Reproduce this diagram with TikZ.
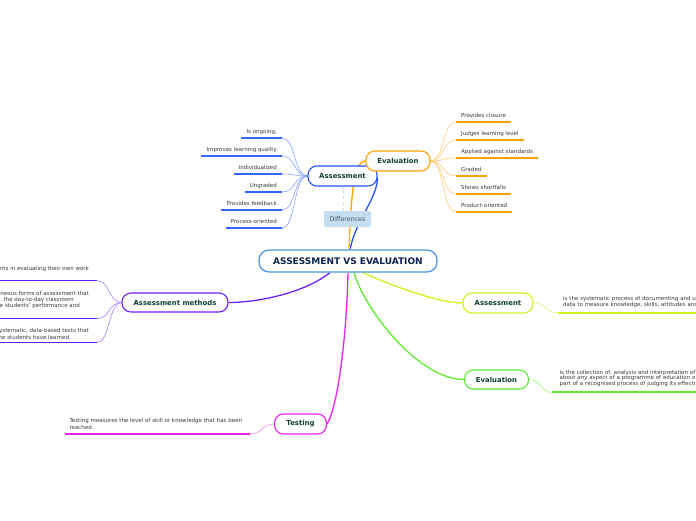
\documentclass[tikz,border=0pt]{standalone}
\usepackage{fontspec}
\setmainfont{DejaVu Sans}
\usetikzlibrary{arrows.meta}
\definecolor{cenB}{HTML}{4C93D6}
\definecolor{cenT}{HTML}{0D2350}
\definecolor{topT}{HTML}{0E3E2E}
\definecolor{leafT}{HTML}{3A3A3A}
\definecolor{difF}{HTML}{C5DDF0}
\definecolor{difT}{HTML}{46576A}
\definecolor{dashC}{HTML}{C9DCEC}
\definecolor{blueA}{HTML}{2456FF}
\definecolor{blueL}{HTML}{84A2FF}
\definecolor{blueU}{HTML}{3565FF}
\definecolor{orA}{HTML}{FFA200}
\definecolor{orL}{HTML}{FFCB78}
\definecolor{purA}{HTML}{7020FF}
\definecolor{purL}{HTML}{A880FF}
\definecolor{ygA}{HTML}{D2F21E}
\definecolor{ygL}{HTML}{E2F77A}
\definecolor{grA}{HTML}{5CEE2E}
\definecolor{grL}{HTML}{9AF57C}
\definecolor{mgA}{HTML}{EE22EE}
\definecolor{mgL}{HTML}{F78AF7}
\pgfdeclarelayer{back}
\pgfdeclarelayer{bg}
\pgfsetlayers{back,bg,main}
\tikzset{
  central/.style={draw=cenB, line width=1.2pt, fill=white, rounded corners=10pt,
    minimum width=178pt, minimum height=22pt, inner sep=0pt, text=cenT,
    font=\bfseries\fontsize{9}{10}\selectfont},
  topic/.style={fill=white, line width=1.1pt, rounded corners=9pt, minimum height=20pt,
    inner sep=0pt, text=topT, font=\bfseries\fontsize{6.9}{8}\selectfont},
  difbox/.style={fill=difF, rounded corners=2pt, minimum width=47pt, minimum height=16pt,
    inner sep=0pt, text=difT, font=\fontsize{6.3}{7}\selectfont},
  leaf/.style={inner xsep=5pt, inner ysep=3pt, text height=4.1pt, text depth=1.3pt,
    text=leafT, font=\fontsize{5.5}{6}\selectfont},
  note/.style={inner sep=0pt, align=left, text=leafT, font=\fontsize{5.5}{6}\selectfont},
  twig/.style={line width=0.6pt},
  stem/.style={line width=1.3pt},
  uline/.style={line width=1.4pt},
  uline2/.style={line width=1.8pt},
  dashc/.style={draw=dashC, dashed, line width=0.8pt}
}
\begin{document}
\begin{tikzpicture}[x=1pt,y=-1pt]
\useasboundingbox (0,0) rectangle (696,520);
\begin{pgfonlayer}{back}
\fill[white] (0,0) rectangle (696,520);
\end{pgfonlayer}

% main nodes
\node[central] (m) at (348,261) {ASSESSMENT VS EVALUATION};
\node[difbox] (dif) at (347.5,219) {Differences};
\node[topic, draw=blueA, minimum width=69pt] (asm) at (342.5,176) {Assessment};
\node[topic, draw=orA, minimum width=64pt] (eva) at (398,161) {Evaluation};
\node[topic, draw=purA, minimum width=106pt, minimum height=19pt] (am) at (175,302.5) {Assessment methods};
\node[topic, draw=ygA, minimum width=70pt] (ras) at (498,303) {Assessment};
\node[topic, draw=grA, minimum width=64pt, minimum height=19pt] (rev) at (496.5,379.5) {Evaluation};
\node[topic, draw=mgA, minimum width=52pt] (tst) at (300.5,424) {Testing};

% assessment leaves
\node[leaf, anchor=south east] (a1) at (282,138) {Is ongoing,};
\node[leaf, anchor=south east] (a2) at (282,156) {Improves learning quality};
\node[leaf, anchor=south east] (a3) at (282,174) {Individualized};
\node[leaf, anchor=south east] (a4) at (282,192) {Ungraded};
\node[leaf, anchor=south east] (a5) at (282,210) {Provides feedback};
\node[leaf, anchor=south east] (a6) at (282,228) {Process-oriented};
\foreach \n in {a1,a2,a3,a4,a5,a6}{
  \draw[uline, blueU] (\n.south west) -- (\n.south east);
  \begin{pgfonlayer}{bg}
  \draw[twig, blueL] (\n.south east) .. controls +(14,0) and +(-14,0) .. (asm.west);
  \end{pgfonlayer}
}

% evaluation leaves
\node[leaf, anchor=south west] (e1) at (456,122) {Provides closure};
\node[leaf, anchor=south west] (e2) at (456,140) {Judges learning level};
\node[leaf, anchor=south west] (e3) at (456,158) {Applied against standards};
\node[leaf, anchor=south west] (e4) at (456,176) {Graded};
\node[leaf, anchor=south west] (e5) at (456,194) {Shows shortfalls};
\node[leaf, anchor=south west] (e6) at (456,212) {Product-oriented};
\foreach \n in {e1,e2,e3,e4,e5,e6}{
  \draw[uline, orA] (\n.south west) -- (\n.south east);
  \begin{pgfonlayer}{bg}
  \draw[twig, orL] (eva.east) .. controls +(14,0) and +(-14,0) .. (\n.south west);
  \end{pgfonlayer}
}

% assessment methods leaves (cut by the left edge)
\coordinate (p1s) at (-3,280.7); \coordinate (p1e) at (97,280.7);
\coordinate (p2s) at (-3,318.7); \coordinate (p2e) at (97,318.7);
\coordinate (p3s) at (-3,342.5); \coordinate (p3e) at (97,342.5);
\node[note, anchor=base east] (t1) at (89,270) {nts in evaluating their own work};
\node[note, anchor=base east] (t2a) at (89,295) {neous forms of assessment that};
\node[note, anchor=base east] (t2b) at (74,301) {the day-to-day classroom};
\node[note, anchor=base east] (t2c) at (80,307.7) {e students’ performance and};
\node[note, anchor=base east] (t3a) at (89,332.5) {ystematic, data-based tests that};
\node[note, anchor=base east] (t3b) at (71,339) {ne students have learned.};
\foreach \a/\b in {p1s/p1e,p2s/p2e,p3s/p3e}{
  \draw[uline, purA] (\a) -- (\b);
  \begin{pgfonlayer}{bg}
  \draw[twig, purL] (\b) .. controls +(13,0) and +(-13,0) .. (am.west);
  \end{pgfonlayer}
}

% definitions
\node[note, anchor=south west, inner xsep=5pt, inner ysep=4.4pt, text width=200pt] (rasT) at (558,312.7)
  {is the systematic process of documenting and u\\data to measure knowledge, skills, attitudes and};
\node[note, anchor=south west, inner xsep=7.5pt, inner ysep=5.7pt, text width=200pt,
  font=\fontsize{5.5}{5.4}\selectfont] (revT) at (552,392.3)
  {is the collection of, analysis and interpretation of\\about any aspect of a programme of education or\\part of a recognised process of judging its effecti};
\node[note, anchor=south west, inner xsep=4.3pt, inner ysep=4.3pt, text width=176pt,
  font=\fontsize{5.5}{7}\selectfont] (tstT) at (65,434)
  {Testing measures the level of skill or knowledge that has been\\reached.};
\draw[uline2, ygA] (rasT.south west) -- (rasT.south east);
\draw[uline2, grA] (revT.south west) -- (revT.south east);
\draw[uline2, mgA] (tstT.south west) -- (tstT.south east);

\begin{pgfonlayer}{bg}
\draw[twig, ygL] (ras.east) .. controls +(13,0) and +(-13,0) .. (rasT.south west);
\draw[twig, grL] (rev.east) .. controls +(12,0) and +(-12,0) .. (revT.south west);
\draw[twig, mgL] (tst.west) .. controls +(-12,0) and +(12,0) .. (tstT.south east);
% stems from the centre
\draw[stem, blueA] ([xshift=2pt]m.north) .. controls +(6,-30) and +(-1,22) .. ([yshift=-2pt]asm.east);
\draw[stem, orA] ([xshift=1pt]m.north) .. controls +(2,-45) and +(-13,0) .. (eva.west);
\draw[dashc] ([xshift=1.5pt]m.north) -- ([xshift=1.5pt]dif.south);
\draw[dashc, -{Stealth[length=3pt,width=3pt]}] ([xshift=-4pt]dif.north) -- ([xshift=1pt]asm.south);
\draw[stem, purA] ([xshift=-18pt]m.south) .. controls +(-25,20) and +(30,0) .. (am.east);
\draw[stem, mgA] (m.south) .. controls +(-2,78) and +(9,-14) .. (tst.east);
\draw[stem, grA] ([xshift=6pt]m.south) .. controls +(11,38) and +(-45,0) .. (rev.west);
\draw[stem, ygA] ([xshift=15pt]m.south) .. controls +(28,13) and +(-23,0) .. (ras.west);
\end{pgfonlayer}
\end{tikzpicture}
\end{document}
